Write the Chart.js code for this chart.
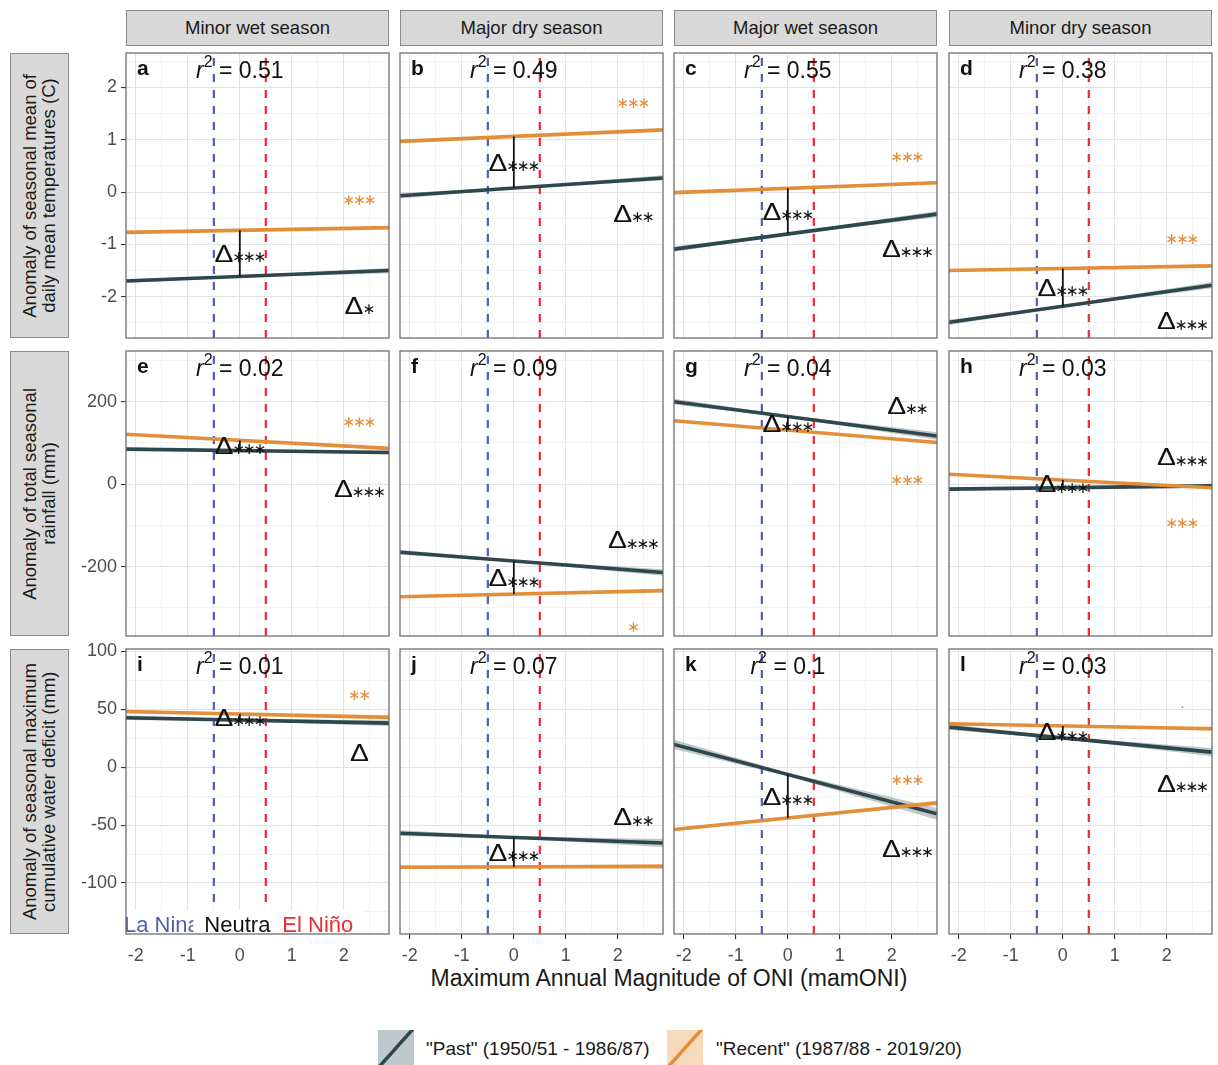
<!DOCTYPE html>
<html lang="en">
<head>
<meta charset="utf-8">
<title>Seasonal anomalies vs mamONI</title>
<script src="https://cdn.jsdelivr.net/npm/chart.js@4.4.1/dist/chart.umd.min.js"></script>
<style>
  html,body{margin:0;padding:0;background:#fff;}
  body{width:1218px;height:1065px;position:relative;overflow:hidden;font-family:"Liberation Sans",Arial,Helvetica,sans-serif;}
  .strip{position:absolute;box-sizing:border-box;background:#d9d9d9;border:1px solid #8a8a8a;display:flex;align-items:center;justify-content:center;color:#1a1a1a;font-size:18.5px;}
  .rtext{writing-mode:vertical-rl;transform:rotate(180deg);text-align:center;line-height:18.5px;white-space:nowrap;}
  .cv{position:absolute;}
  #xtitle{position:absolute;left:126px;width:1086px;top:965px;text-align:center;font-size:23px;line-height:26px;color:#1a1a1a;}
  .lg-key{position:absolute;top:1030px;}
  .lg-text{position:absolute;top:1038px;font-size:19px;line-height:22px;color:#1a1a1a;white-space:nowrap;}
</style>
</head>
<body>
<div id="xtitle">Maximum Annual Magnitude of ONI (mamONI)</div>
<svg class="lg-key" style="left:378px" width="36" height="36" viewBox="0 0 36 36"><rect width="36" height="36" fill="#bfc8ca"/><line x1="1" y1="37" x2="35" y2="-1" stroke="#2e474d" stroke-width="3.5"/></svg>
<div class="lg-text" style="left:426px">"Past" (1950/51 - 1986/87)</div>
<svg class="lg-key" style="left:667px" width="36" height="36" viewBox="0 0 36 36"><rect width="36" height="36" fill="#f7d9bc"/><line x1="1" y1="37" x2="35" y2="-1" stroke="#e38f3a" stroke-width="3.5"/></svg>
<div class="lg-text" style="left:716px">"Recent" (1987/88 - 2019/20)</div>
<script>
// ---------------- data ----------------
const seasons = ["Minor wet season", "Major dry season", "Major wet season", "Minor dry season"];
const rowTitles = [
  ["Anomaly of seasonal mean of", "daily mean temperatures (C)"],
  ["Anomaly of total seasonal", "rainfall (mm)"],
  ["Anomaly of seasonal maximum", "cumulative water deficit (mm)"]
];
const panelLetters = ["a","b","c","d","e","f","g","h","i","j","k","l"];
const rSquared = ["0.51","0.49","0.55","0.38","0.02","0.09","0.04","0.03","0.01","0.07","0.1","0.03"];

const xLimits = [-2.19, 2.87];
const xTicks = [-2, -1, 0, 1, 2];
const xMinor = [-1.5, -0.5, 0.5, 1.5, 2.5];
const yLimits = [[-2.79, 2.66], [-368, 323], [-144, 102]];
const yTicks = [[-2, -1, 0, 1, 2], [-200, 0, 200], [-100, -50, 0, 50, 100]];
const yMinor = [[-2.5, -1.5, -0.5, 0.5, 1.5, 2.5], [-300, -100, 100, 300], [-125, -75, -25, 25, 75]];

// regression lines: fitted value at left edge and right edge of x range
const pastStart   = [-1.70, -0.07, -1.09, -2.49,   85, -165, 200, -12,  42.7, -57.0,  19.6, 34.6];
const pastEnd     = [-1.50,  0.27, -0.42, -1.78,   77, -214, 117,  -4,  38.0, -65.4, -40.3, 13.0];
const recentStart = [-0.77,  0.97, -0.01, -1.50,  121, -273, 154,  24,  48.0, -86.4, -53.8, 37.5];
const recentEnd   = [-0.68,  1.19,  0.18, -1.41,   87, -258, 101,  -8.5, 43.0, -85.6, -30.8, 33.2];
// confidence band half-widths [left, centre, right]
const pastBand = [[0.04,0.02,0.05],[0.05,0.02,0.05],[0.05,0.02,0.06],[0.05,0.02,0.06],
                  [4,2,5],[6,2.5,8],[7,3,9],[4,2,5],
                  [2,1,2.5],[2.5,1,3.5],[4,1.5,5],[2.5,1,3.5]];
const recentBand = [[0.03,0.015,0.03],[0.03,0.015,0.03],[0.03,0.015,0.03],[0.03,0.015,0.03],
                    [3,1.5,3.5],[3,1.5,3.5],[3,1.5,3.5],[3,1.5,3.5],
                    [1.5,0.8,2],[1.5,0.8,2],[1.5,0.8,2],[1.5,0.8,2]];
// significance labels
const recentSig  = ["***","***","***","***","***","*","***","***","**","","***","."];
const recentSigY = [-0.15, 1.71, 0.68, -0.90, 151, -347, 10, -95, 62, null, -11, 53];
const deltaSig   = ["*","**","***","***","***","***","**","***","","**","***","***"];
const deltaSigY  = [-2.16, -0.40, -1.07, -2.46, -10, -135, 192, 67, 13, -43, -70, -14];
const centreDeltaSig = ["***","***","***","***","***","***","***","***","***","***","***","***"];
const sigLabelX = 2.3;
const ensoCuts = [-0.5, 0.5];
const ensoLabels = ["La Nina", "Neutral", "El Niño"];
const ensoLabelX = [-1.5, 0, 1.5];
const ensoLabelY = -136;

// ---------------- layout & style ----------------
const COL_LEFT = [126, 400, 674, 949], PANEL_W = 263;
const ROW_TOP = [53, 351, 649], PANEL_H = 285;
const AXW = 70, AXH = 44, PAD_T = 14, PAD_R = 3;
const FONT = '"Liberation Sans", Arial, sans-serif';
const C_PAST = '#2e474d', C_RECENT = '#e38f3a';
const C_PAST_BAND = 'rgba(46,71,77,0.30)', C_RECENT_BAND = 'rgba(227,143,58,0.28)';
const C_BLUE = '#4f5fb3', C_RED = '#ee2a33';

// strips
seasons.forEach((s, c) => {
  const d = document.createElement('div');
  d.className = 'strip';
  Object.assign(d.style, {left: COL_LEFT[c] + 'px', top: '10px', width: PANEL_W + 'px', height: '36px'});
  d.textContent = s;
  document.body.appendChild(d);
});
rowTitles.forEach((t, r) => {
  const d = document.createElement('div');
  d.className = 'strip';
  Object.assign(d.style, {left: '10px', top: ROW_TOP[r] + 'px', width: '59px', height: PANEL_H + 'px'});
  const s = document.createElement('div');
  s.className = 'rtext';
  s.innerHTML = t[0] + '<br>' + t[1];
  d.appendChild(s);
  document.body.appendChild(d);
});

function valAt(a, b, x) { return a + (b - a) * (x - xLimits[0]) / (xLimits[1] - xLimits[0]); }

let starFontSize = null;
function starFont(ctx) {
  if (starFontSize === null) {
    ctx.save();
    ctx.font = '20px "DejaVu Sans"';
    const m = ctx.measureText('\u2217');
    const w = (m.actualBoundingBoxLeft + m.actualBoundingBoxRight) || 10;
    starFontSize = 20 * 10 / w;
    ctx.restore();
  }
  return starFontSize.toFixed(2) + 'px "DejaVu Sans"';
}
const PITCH = 10.6;
function drawStars(ctx, stars, cx, cy, color) {
  if (!stars) return;
  ctx.save();
  ctx.fillStyle = color;
  ctx.textAlign = 'center';
  ctx.textBaseline = 'alphabetic';
  if (stars === '.') {
    ctx.font = '16px ' + FONT;
    ctx.fillText('.', cx, cy + 2);
    ctx.restore();
    return;
  }
  ctx.font = starFont(ctx);
  const m = ctx.measureText('\u2217');
  const off = (m.actualBoundingBoxAscent - m.actualBoundingBoxDescent) / 2;
  const n = stars.length;
  for (let k = 0; k < n; k++) ctx.fillText('\u2217', cx + (k - (n - 1) / 2) * PITCH, cy + off);
  ctx.restore();
}
const DELTA_SX = 1.18;
function drawDelta(ctx, stars, cx, cy) {
  ctx.save();
  ctx.fillStyle = '#111';
  ctx.font = '24px ' + FONT;
  ctx.textAlign = 'left';
  ctx.textBaseline = 'alphabetic';
  const m = ctx.measureText('\u0394');
  const wD = m.width * DELTA_SX;
  const asc = m.actualBoundingBoxAscent;
  const n = stars.length;
  const total = wD + n * PITCH;
  const x0 = cx - total / 2;
  const base = cy + asc / 2;
  ctx.translate(x0, base);
  ctx.scale(DELTA_SX, 1);
  ctx.fillText('\u0394', 0, 0);
  ctx.restore();
  for (let k = 0; k < n; k++) drawStars(ctx, '*', x0 + wD + PITCH * (k + 0.5), base - 4.5, '#111');
}

const annotPlugin = {
  id: 'annot',
  afterDatasetsDraw(chart, args, o) {
    const ctx = chart.ctx, a = chart.chartArea, xs = chart.scales.x, ys = chart.scales.y;
    const i = o.i;
    // ENSO phase labels (panel i only)
    if (o.r === 2 && o.c === 0) {
      ctx.save();
      ctx.font = '22px ' + FONT;
      ctx.textBaseline = 'middle';
      ctx.textAlign = 'center';
      const cols = [C_BLUE, '#111', C_RED];
      ensoLabels.forEach((t, k) => {
        const px = xs.getPixelForValue(ensoLabelX[k]), py = ys.getPixelForValue(ensoLabelY);
        const w = ctx.measureText(t).width;
        ctx.fillStyle = '#fff';
        ctx.fillRect(px - w / 2 - 11, py - 15, w + 22, 30);
        ctx.fillStyle = cols[k];
        ctx.fillText(t, px, py + 1);
      });
      ctx.restore();
    }
    // panel letter
    ctx.save();
    ctx.fillStyle = '#111';
    ctx.font = 'bold 21px ' + FONT;
    ctx.textAlign = 'left';
    ctx.textBaseline = 'alphabetic';
    ctx.fillText(panelLetters[i], a.left + 11, a.top + 22);
    // r^2 label centred at x = 0
    const cx = xs.getPixelForValue(0), base = a.top + 25;
    ctx.font = 'italic 23px ' + FONT; const wr = ctx.measureText('r').width;
    ctx.font = '16px ' + FONT; const w2 = ctx.measureText('2').width;
    ctx.font = '23px ' + FONT; const rest = ' = ' + rSquared[i]; const wrest = ctx.measureText(rest).width;
    const x0 = cx - (wr + w2 + wrest) / 2;
    ctx.font = 'italic 23px ' + FONT; ctx.fillText('r', x0, base);
    ctx.font = '16px ' + FONT; ctx.fillText('2', x0 + wr, base - 11);
    ctx.font = '23px ' + FONT; ctx.fillText(rest, x0 + wr + w2, base);
    ctx.restore();
    // significance of recent slope
    if (recentSig[i]) drawStars(ctx, recentSig[i], xs.getPixelForValue(sigLabelX), ys.getPixelForValue(recentSigY[i]), C_RECENT);
    // significance of past slope / difference
    drawDelta(ctx, deltaSig[i], xs.getPixelForValue(sigLabelX), ys.getPixelForValue(deltaSigY[i]));
    // centre difference label
    const p0 = valAt(pastStart[i], pastEnd[i], 0), q0 = valAt(recentStart[i], recentEnd[i], 0);
    drawDelta(ctx, centreDeltaSig[i], cx, ys.getPixelForValue((p0 + q0) / 2));
  },
  afterDraw(chart) {
    const ctx = chart.ctx, a = chart.chartArea;
    ctx.save();
    ctx.strokeStyle = '#6f6f6f';
    ctx.lineWidth = 1.3;
    ctx.strokeRect(a.left, a.top, a.right - a.left, a.bottom - a.top);
    ctx.restore();
  }
};

function gridOpts(majors, showTicks) {
  const isMajor = v => majors.some(m => Math.abs(m - v) < 1e-9);
  return {
    color: ctx => (ctx.tick && isMajor(ctx.tick.value)) ? '#e3e3e3' : '#f0f0f0',
    lineWidth: ctx => (ctx.tick && isMajor(ctx.tick.value)) ? 1.1 : 0.8,
    drawTicks: showTicks,
    tickLength: 5,
    tickColor: ctx => (ctx.tick && isMajor(ctx.tick.value)) ? '#333' : 'rgba(0,0,0,0)',
    tickWidth: 1.1
  };
}

for (let r = 0; r < 3; r++) {
  for (let c = 0; c < 4; c++) {
    const i = r * 4 + c;
    const W = AXW + PANEL_W + PAD_R, H = PAD_T + PANEL_H + AXH;
    const cv = document.createElement('canvas');
    cv.className = 'cv';
    cv.width = W; cv.height = H;
    Object.assign(cv.style, {left: (COL_LEFT[c] - AXW) + 'px', top: (ROW_TOP[r] - PAD_T) + 'px', width: W + 'px', height: H + 'px'});
    document.body.appendChild(cv);

    const [x0, x1] = xLimits, [y0, y1] = yLimits[r];
    const band = (s, e, h) => {
      const m = valAt(s, e, 0);
      return [
        [{x: x0, y: s + h[0]}, {x: 0, y: m + h[1]}, {x: x1, y: e + h[2]}],
        [{x: x0, y: s - h[0]}, {x: 0, y: m - h[1]}, {x: x1, y: e - h[2]}]
      ];
    };
    const pb = band(pastStart[i], pastEnd[i], pastBand[i]);
    const rb = band(recentStart[i], recentEnd[i], recentBand[i]);
    const p0 = valAt(pastStart[i], pastEnd[i], 0), q0 = valAt(recentStart[i], recentEnd[i], 0);
    const base = {pointRadius: 0, tension: 0};
    const datasets = [
      Object.assign({data: pb[0], borderWidth: 0, borderColor: 'rgba(0,0,0,0)', backgroundColor: C_PAST_BAND, fill: '+1', order: 20}, base),
      Object.assign({data: pb[1], borderWidth: 0, borderColor: 'rgba(0,0,0,0)', fill: false, order: 20}, base),
      Object.assign({data: rb[0], borderWidth: 0, borderColor: 'rgba(0,0,0,0)', backgroundColor: C_RECENT_BAND, fill: '+1', order: 19}, base),
      Object.assign({data: rb[1], borderWidth: 0, borderColor: 'rgba(0,0,0,0)', fill: false, order: 19}, base),
      Object.assign({data: [{x: ensoCuts[0], y: y0}, {x: ensoCuts[0], y: y1}], borderColor: C_BLUE, borderWidth: 2.2, borderDash: [8, 8], fill: false, order: 15}, base),
      Object.assign({data: [{x: ensoCuts[1], y: y0}, {x: ensoCuts[1], y: y1}], borderColor: C_RED, borderWidth: 2.2, borderDash: [8, 8], fill: false, order: 15}, base),
      Object.assign({data: [{x: x0, y: pastStart[i]}, {x: x1, y: pastEnd[i]}], borderColor: C_PAST, borderWidth: 3.6, fill: false, order: 10}, base),
      Object.assign({data: [{x: x0, y: recentStart[i]}, {x: x1, y: recentEnd[i]}], borderColor: C_RECENT, borderWidth: 3.6, fill: false, order: 9}, base),
      Object.assign({data: [{x: 0, y: q0}, {x: 0, y: p0}], borderColor: '#151515', borderWidth: 1.8, fill: false, order: 1}, base)
    ];

    new Chart(cv.getContext('2d'), {
      type: 'line',
      data: {datasets},
      options: {
        responsive: false,
        animation: false,
        devicePixelRatio: 1,
        events: [],
        layout: {padding: {top: PAD_T, right: PAD_R, left: 0, bottom: 0}},
        plugins: {legend: {display: false}, tooltip: {enabled: false}, annot: {i, r, c}},
        scales: {
          x: {
            type: 'linear', min: x0, max: x1,
            afterBuildTicks: s => { s.ticks = xTicks.concat(xMinor).sort((p, q) => p - q).map(v => ({value: v})); },
            afterFit: s => { s.height = AXH; s.paddingLeft = 0; s.paddingRight = 0; },
            ticks: {
              display: r === 2, autoSkip: false, maxRotation: 0, minRotation: 0, padding: 6,
              color: '#4d4d4d', font: {family: FONT, size: 18},
              callback: v => xTicks.includes(v) ? String(v) : ''
            },
            grid: gridOpts(xTicks, r === 2),
            border: {display: false}
          },
          y: {
            type: 'linear', min: y0, max: y1,
            afterBuildTicks: s => { s.ticks = yTicks[r].concat(yMinor[r]).sort((p, q) => p - q).map(v => ({value: v})); },
            afterFit: s => { s.width = AXW; s.paddingTop = 0; s.paddingBottom = 0; },
            ticks: {
              display: c === 0, autoSkip: false, padding: 4,
              color: '#4d4d4d', font: {family: FONT, size: 18},
              callback: v => yTicks[r].includes(v) ? String(v) : ''
            },
            grid: gridOpts(yTicks[r], c === 0),
            border: {display: false}
          }
        }
      },
      plugins: [annotPlugin]
    });
  }
}
</script>
</body>
</html>
